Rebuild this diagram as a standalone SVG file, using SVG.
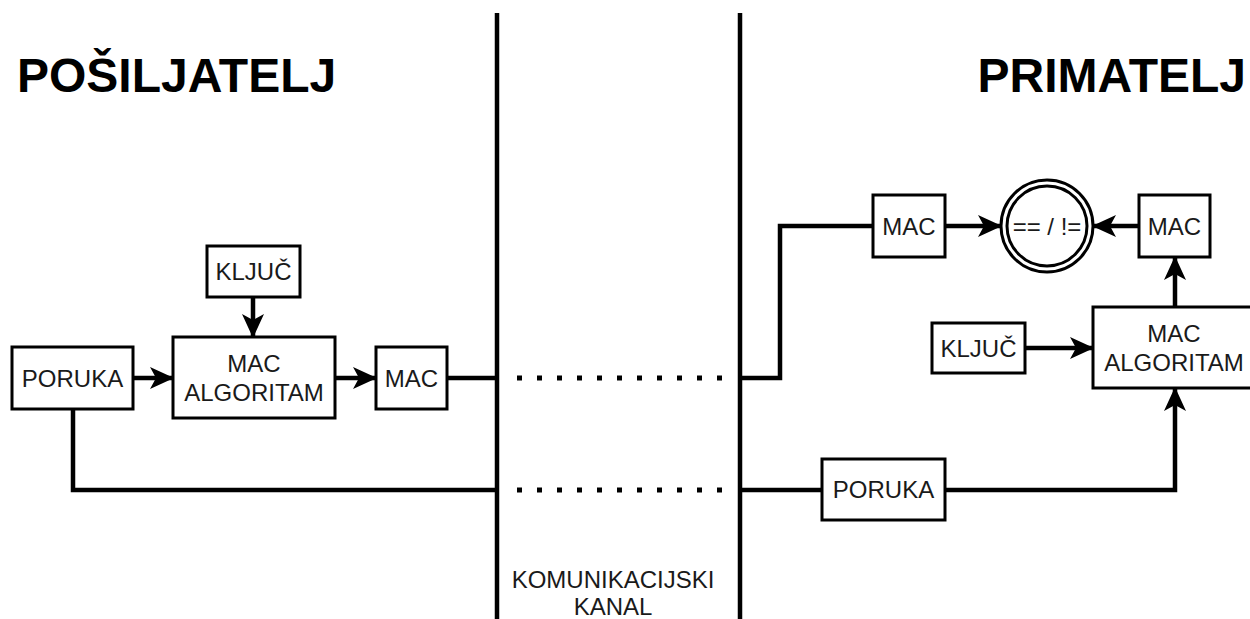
<svg xmlns="http://www.w3.org/2000/svg" width="1250" height="619" viewBox="0 0 1250 619">
<style>
.box{fill:#fff;stroke:#000;stroke-width:3}
.t{font-family:"Liberation Sans",Arial,sans-serif;font-size:24px;fill:#1a1a1a;text-anchor:middle}
.title{font-family:"Liberation Sans",Arial,sans-serif;font-size:48px;font-weight:bold;fill:#000}
.c{fill:none;stroke:#000;stroke-width:4.5}
.dots{fill:none;stroke:#000;stroke-width:5;stroke-dasharray:5 15}
</style>
<defs>
<marker id="arr" markerUnits="userSpaceOnUse" markerWidth="24" markerHeight="22" viewBox="0 0 24 22" refX="23" refY="11" orient="auto">
<path d="M0,0 L24,11 L0,22 L6,11 z" fill="#000"/>
</marker>
</defs>
<rect width="1250" height="619" fill="#fff"/>
<text class="title" x="17" y="92">POŠILJATELJ</text>
<text class="title" x="1246" y="92" text-anchor="end">PRIMATELJ</text>
<g id="channel">
<line class="c" x1="497" y1="13" x2="497" y2="619"/>
<line class="c" x1="740" y1="13" x2="740" y2="619"/>
<text class="t" x="613" y="588">KOMUNIKACIJSKI</text>
<text class="t" x="613" y="615">KANAL</text>
</g>
<g id="connectors">
<line class="c" x1="133" y1="378" x2="173" y2="378" marker-end="url(#arr)"/>
<line class="c" x1="253" y1="297" x2="253" y2="337" marker-end="url(#arr)"/>
<line class="c" x1="335" y1="378" x2="376" y2="378" marker-end="url(#arr)"/>
<line class="c" x1="447" y1="378" x2="497" y2="378"/>
<polyline class="c" points="73,409 73,490 497,490"/>
<line class="dots" x1="517" y1="378" x2="725" y2="378"/>
<line class="dots" x1="517" y1="490" x2="725" y2="490"/>
<polyline class="c" points="740,378 780,378 780,226 873,226"/>
<line class="c" x1="945" y1="226" x2="1001" y2="226" marker-end="url(#arr)"/>
<line class="c" x1="1139" y1="226" x2="1093" y2="226" marker-end="url(#arr)"/>
<line class="c" x1="1175" y1="307" x2="1175" y2="257" marker-end="url(#arr)"/>
<line class="c" x1="1025" y1="348" x2="1093" y2="348" marker-end="url(#arr)"/>
<line class="c" x1="740" y1="490" x2="822" y2="490"/>
<polyline class="c" points="945,490 1175,490 1175,388" marker-end="url(#arr)"/>
</g>
<g id="poruka-s"><rect class="box" x="12" y="347" width="121" height="62"/><text class="t" x="72.5" y="387">PORUKA</text></g>
<g id="kljuc-s"><rect class="box" x="207" y="246" width="93" height="51"/><text class="t" x="253.5" y="280">KLJUČ</text></g>
<g id="macalg-s"><rect class="box" x="173" y="337" width="162" height="81"/><text class="t" x="254" y="372">MAC</text><text class="t" x="254" y="401">ALGORITAM</text></g>
<g id="mac-s"><rect class="box" x="376" y="347" width="71" height="62"/><text class="t" x="411.5" y="387">MAC</text></g>
<g id="mac-r1"><rect class="box" x="873" y="195" width="72" height="62"/><text class="t" x="909" y="235">MAC</text></g>
<g id="compare"><circle cx="1047" cy="226" r="46" fill="#fff" stroke="#000" stroke-width="3"/><circle cx="1047" cy="226" r="40" fill="none" stroke="#000" stroke-width="3"/><text class="t" x="1047" y="235">== / !=</text></g>
<g id="mac-r2"><rect class="box" x="1139" y="195" width="71" height="62"/><text class="t" x="1174.5" y="235">MAC</text></g>
<g id="macalg-r"><rect class="box" x="1093" y="307" width="162" height="81"/><text class="t" x="1174" y="342">MAC</text><text class="t" x="1174" y="371">ALGORITAM</text></g>
<g id="kljuc-r"><rect class="box" x="932" y="323" width="93" height="50"/><text class="t" x="978.5" y="357">KLJUČ</text></g>
<g id="poruka-r"><rect class="box" x="822" y="459" width="123" height="61"/><text class="t" x="883.5" y="498">PORUKA</text></g>
</svg>
